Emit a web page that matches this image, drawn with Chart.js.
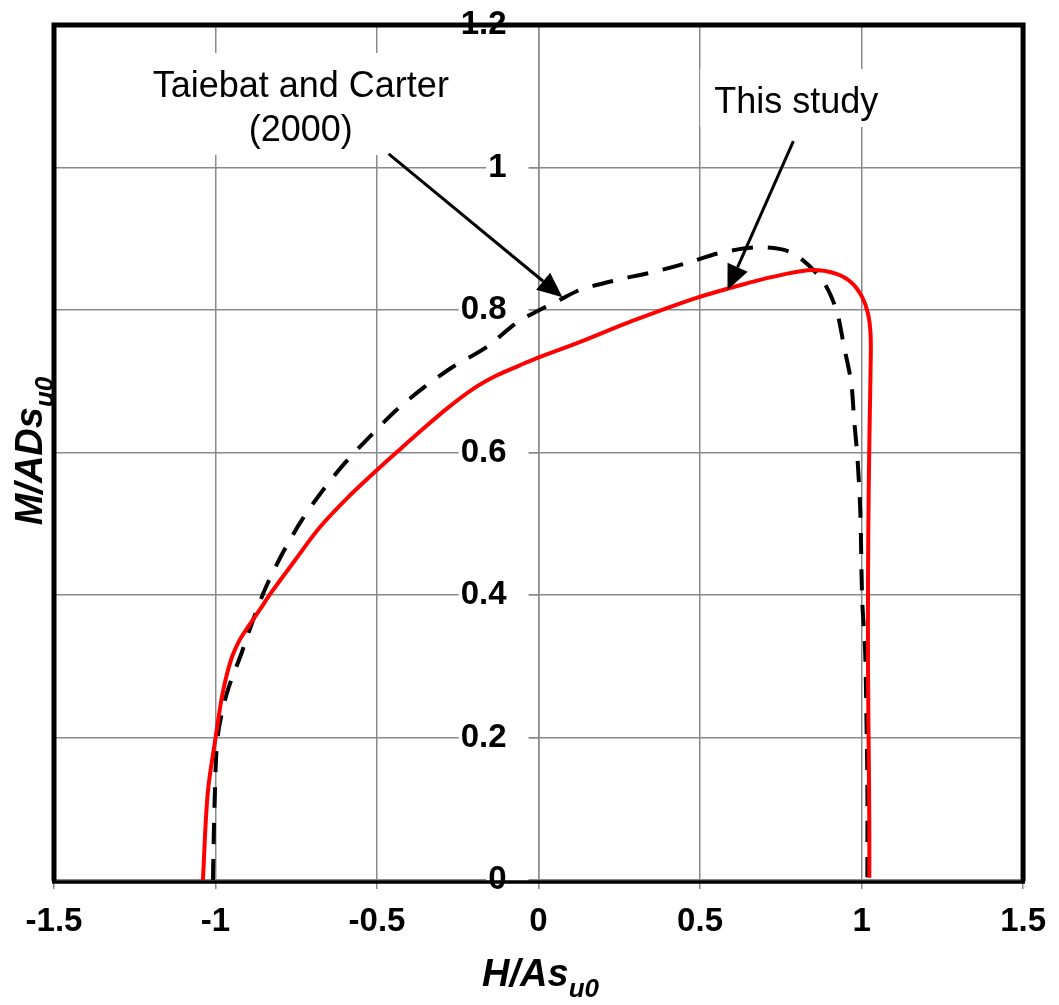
<!DOCTYPE html>
<html lang="en">
<head>
    <meta charset="UTF-8">
    <title>Failure envelope - M/ADsu0 vs H/Asu0</title>
    <script src="https://cdn.jsdelivr.net/npm/chart.js"></script>
    <style>
        body {
            margin: 0;
            background-color: #fff;
        }
        .chart-container {
            position: relative;
            width: 1059px;
            height: 1005px;
        }
    </style>
</head>
<body>
    <div class="chart-container">
        <canvas id="envChart"></canvas>
    </div>

    <script>
        // Axis ticks
        const xTicks = [-1.5, -1, -0.5, 0, 0.5, 1, 1.5];
        const xTickLabels = ['-1.5', '-1', '-0.5', '0', '0.5', '1', '1.5'];
        const yTicks = [0, 0.2, 0.4, 0.6, 0.8, 1, 1.2];
        const yTickLabels = ['0', '0.2', '0.4', '0.6', '0.8', '1', '1.2'];

        // This study (red, solid)
        const studyH = [-1.039, -1.024, -0.999, -0.978, -0.952, -0.925, -0.895, -0.865, -0.825, -0.755,
                        -0.677, -0.590, -0.501, -0.430, -0.350, -0.280, -0.200, -0.130, -0.060, 0.003,
                        0.127, 0.281, 0.489, 0.650, 0.760, 0.848, 0.920, 0.970, 1.002, 1.020,
                        1.028, 1.028, 1.025, 1.022, 1.020, 1.020, 1.022, 1.024, 1.024];
        const studyM = [0, 0.122, 0.202, 0.262, 0.309, 0.337, 0.358, 0.378, 0.405, 0.448,
                        0.495, 0.537, 0.575, 0.604, 0.636, 0.663, 0.690, 0.708, 0.722, 0.734,
                        0.755, 0.783, 0.817, 0.838, 0.850, 0.856, 0.851, 0.838, 0.818, 0.795,
                        0.765, 0.720, 0.640, 0.540, 0.420, 0.300, 0.190, 0.080, 0.003];

        // Taiebat and Carter (2000) (black, dashed)
        const tcH = [-1.008, -1.002, -0.993, -0.965, -0.919, -0.878, -0.841, -0.792, -0.733, -0.671,
                     -0.600, -0.523, -0.439, -0.353, -0.266, -0.161, -0.068, 0.003, 0.065, 0.127,
                     0.241, 0.353, 0.467, 0.560, 0.684, 0.786, 0.878, 0.922, 0.946, 0.968,
                     0.977, 0.987, 0.996, 1.002, 1.011, 1.015, 1.018, 1.018];
        const tcM = [0, 0.122, 0.202, 0.262, 0.319, 0.372, 0.414, 0.459, 0.505, 0.545,
                     0.585, 0.622, 0.660, 0.692, 0.720, 0.748, 0.782, 0.800, 0.814, 0.828,
                     0.842, 0.853, 0.867, 0.880, 0.888, 0.880, 0.842, 0.800, 0.748, 0.698,
                     0.646, 0.594, 0.519, 0.393, 0.323, 0.229, 0.136, 0.004];

        const toPoints = (xs, ys) => xs.map((x, i) => ({x: x, y: ys[i]}));

        const FONT = '"Liberation Sans", Arial, sans-serif';
        const GRID = '#8a8a8a';

        // text boxes and arrows, drawn on top of the grid
        const annotations = {
            id: 'annotations',
            beforeDatasetsDraw(chart) {
                const {ctx, scales: {x, y}} = chart;
                ctx.save();
                ctx.font = '36px ' + FONT;
                ctx.textAlign = 'center';
                ctx.textBaseline = 'alphabetic';
                const notes = [
                    {lines: ['Taiebat and Carter', '(2000)'], x: -0.736, y: 1.099, gap: 44},
                    {lines: ['This study'], x: 0.798, y: 1.0765, gap: 44}
                ];
                notes.forEach(n => {
                    const cx = x.getPixelForValue(n.x);
                    const by = y.getPixelForValue(n.y);
                    const w = Math.max(...n.lines.map(l => ctx.measureText(l).width));
                    const lastBase = by + (n.lines.length - 1) * n.gap;
                    ctx.fillStyle = '#fff';
                    ctx.fillRect(cx - w / 2 - 14, by - 44, w + 28, lastBase - by + 58);
                    ctx.fillStyle = '#000';
                    n.lines.forEach((l, i) => ctx.fillText(l, cx, by + i * n.gap));
                });
                ctx.restore();
            },
            afterDatasetsDraw(chart) {
                const {ctx, scales: {x, y}} = chart;
                const arrows = [
                    [-0.464, 1.019, 0.074, 0.818],
                    [0.789, 1.037, 0.585, 0.828]
                ];
                ctx.save();
                ctx.strokeStyle = '#000';
                ctx.fillStyle = '#000';
                ctx.lineWidth = 3;
                arrows.forEach(a => {
                    const x1 = x.getPixelForValue(a[0]), y1 = y.getPixelForValue(a[1]);
                    const x2 = x.getPixelForValue(a[2]), y2 = y.getPixelForValue(a[3]);
                    const ang = Math.atan2(y2 - y1, x2 - x1);
                    const len = 25, half = 11;
                    const bx = x2 - len * Math.cos(ang), by = y2 - len * Math.sin(ang);
                    ctx.beginPath();
                    ctx.moveTo(x1, y1);
                    ctx.lineTo(bx, by);
                    ctx.stroke();
                    ctx.beginPath();
                    ctx.moveTo(x2, y2);
                    ctx.lineTo(bx + half * Math.sin(ang), by - half * Math.cos(ang));
                    ctx.lineTo(bx - half * Math.sin(ang), by + half * Math.cos(ang));
                    ctx.closePath();
                    ctx.fill();
                });
                ctx.restore();
            },
            afterDraw(chart) {
                const {ctx, chartArea: ca} = chart;
                ctx.save();
                // plot frame
                ctx.strokeStyle = '#000';
                ctx.lineWidth = 5;
                ctx.beginPath();
                ctx.moveTo(ca.left, ca.bottom + 1);
                ctx.lineTo(ca.left, ca.top);
                ctx.lineTo(ca.right, ca.top);
                ctx.lineTo(ca.right, ca.bottom + 1);
                ctx.stroke();
                ctx.lineWidth = 3.5;
                ctx.beginPath();
                ctx.moveTo(ca.left - 2, ca.bottom + 2);
                ctx.lineTo(ca.right + 2, ca.bottom + 2);
                ctx.stroke();

                // axis titles with subscripts
                const drawTitle = (main, sub) => {
                    ctx.font = 'italic bold 38px ' + FONT;
                    const w1 = ctx.measureText(main).width;
                    ctx.font = 'italic bold 26px ' + FONT;
                    const w2 = ctx.measureText(sub).width;
                    const start = -(w1 + w2) / 2;
                    ctx.textAlign = 'left';
                    ctx.textBaseline = 'alphabetic';
                    ctx.fillStyle = '#000';
                    ctx.font = 'italic bold 38px ' + FONT;
                    ctx.fillText(main, start, 0);
                    ctx.font = 'italic bold 26px ' + FONT;
                    ctx.fillText(sub, start + w1, 11);
                };
                ctx.save();
                ctx.translate((ca.left + ca.right) / 2 + 2, 986);
                drawTitle('H/As', 'u0');
                ctx.restore();
                ctx.save();
                ctx.translate(42, 451);
                ctx.rotate(-Math.PI / 2);
                drawTitle('M/ADs', 'u0');
                ctx.restore();
                ctx.restore();
            }
        };

        const noPad = scale => { scale.paddingTop = 0; scale.paddingBottom = 0; };
        const yTickBuild = scale => { scale.ticks = yTicks.map(v => ({value: v})); };

        const ctx = document.getElementById('envChart').getContext('2d');
        const envChart = new Chart(ctx, {
            type: 'scatter',
            data: {
                datasets: [
                    {
                        label: 'This study',
                        data: toPoints(studyH, studyM),
                        showLine: true,
                        borderColor: '#ff0000',
                        borderWidth: 4,
                        pointRadius: 0,
                        tension: 0.35,
                        fill: false
                    },
                    {
                        label: 'Taiebat and Carter (2000)',
                        data: toPoints(tcH, tcM),
                        showLine: true,
                        borderColor: '#000',
                        borderWidth: 4,
                        borderDash: [21, 15],
                        pointRadius: 0,
                        tension: 0.3,
                        fill: false
                    }
                ]
            },
            options: {
                responsive: true,
                maintainAspectRatio: false,
                animation: false,
                layout: {
                    padding: {left: 54, right: 34, top: 25, bottom: 0}
                },
                plugins: {
                    legend: {display: false},
                    tooltip: {enabled: false}
                },
                scales: {
                    x: {
                        type: 'linear',
                        min: -1.5,
                        max: 1.5,
                        afterBuildTicks: scale => { scale.ticks = xTicks.map(v => ({value: v})); },
                        afterFit: scale => { scale.height = 125; },
                        grid: {
                            color: GRID,
                            lineWidth: 1.5,
                            tickLength: 9,
                            tickColor: GRID
                        },
                        border: {display: false},
                        ticks: {
                            color: '#000',
                            padding: 13,
                            maxRotation: 0,
                            font: {family: FONT, size: 33, weight: 'bold'},
                            callback: v => xTickLabels[xTicks.indexOf(v)]
                        }
                    },
                    // vertical axis line, grid and tick marks at H = 0
                    y: {
                        type: 'linear',
                        position: {x: 0},
                        min: 0,
                        max: 1.2,
                        afterBuildTicks: yTickBuild,
                        afterFit: noPad,
                        grid: {
                            color: GRID,
                            lineWidth: 1.5,
                            tickLength: 10,
                            tickColor: GRID
                        },
                        border: {color: GRID, width: 1.5},
                        ticks: {display: false}
                    },
                    // tick labels just left of the H = 0 line
                    yLabels: {
                        type: 'linear',
                        axis: 'y',
                        position: {x: -0.099},
                        min: 0,
                        max: 1.2,
                        afterBuildTicks: yTickBuild,
                        afterFit: noPad,
                        grid: {display: false},
                        border: {display: false},
                        ticks: {
                            color: '#000',
                            font: {family: FONT, size: 33, weight: 'bold'},
                            showLabelBackdrop: true,
                            backdropColor: '#fff',
                            backdropPadding: {top: 0, bottom: 0, left: 2, right: 22},
                            callback: v => yTickLabels[yTicks.indexOf(v)]
                        }
                    }
                }
            },
            plugins: [annotations]
        });
    </script>
</body>
</html>
